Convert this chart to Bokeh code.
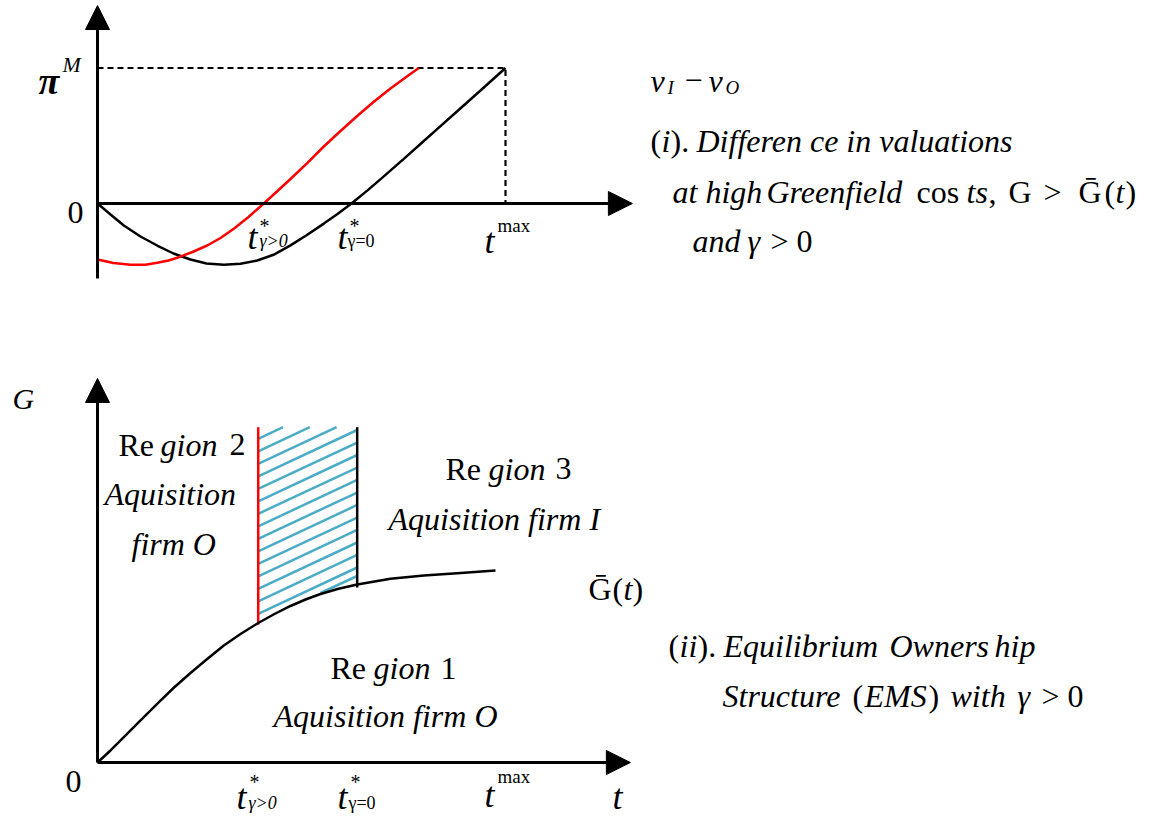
from bokeh.plotting import figure
from bokeh.models import Range1d, Arrow, NormalHead, Label
from bokeh.embed import file_html
from bokeh.resources import INLINE

# ---------------- data (schematic units: t_max = 100, pi^M = 100) ----------------
T_MAX = 100.0
PI_M = 100.0

# panel (i): v_I - v_O as function of t
top_black_t = [0, 3.19, 6.45, 10.54, 14.63, 18.63, 22.79, 26.72, 30.96, 35.05, 39.14, 43.14,
               47.30, 51.23, 55.47, 58.82, 62.25, 66.18, 70.17, 75.0, 79.98, 84.07, 88.16, 93.87, 100]
top_black_v = [0, -8.12, -16.24, -24.35, -31.0, -36.9, -41.33, -44.28, -45.24, -44.50, -42.07, -37.86,
               -30.92, -23.39, -14.83, -7.75, 0, 9.67, 20.0, 32.77, 46.13, 57.12, 68.12, 83.39, 100]

top_red_t = [0, 3.92, 8.09, 11.76, 14.63, 17.40, 19.93, 23.28, 26.89, 30.15, 33.41, 37.01,
             40.76, 44.12, 47.30, 51.40, 55.47, 59.56, 63.65, 67.65, 71.81, 75.49, 78.75]
top_red_v = [-41.33, -43.91, -45.24, -45.24, -43.76, -42.07, -39.63, -35.79, -31.0, -25.46, -18.67, -9.96,
             0, 9.23, 18.08, 29.82, 42.07, 53.51, 64.58, 74.91, 84.87, 92.99, 100]

dash_t = [0, T_MAX, T_MAX]
dash_v = [PI_M, PI_M, 0]

# panel (ii): G-bar(t) boundary
gbar_t = [0, 3.19, 6.45, 10.54, 14.63, 18.63, 22.79, 26.89, 30.96, 35.05, 39.39, 43.14,
          47.30, 50.98, 54.66, 59.07, 63.65, 71.81, 79.98, 88.16, 97.55]
gbar_g = [0, 3.13, 6.59, 10.94, 15.29, 19.4, 23.31, 26.95, 30.47, 33.46, 36.33, 38.54,
          40.76, 42.45, 43.88, 45.26, 46.35, 47.84, 48.70, 49.3, 50.0]

t_star_gpos = 39.39    # t*_{gamma>0}
t_star_gzero = 63.65   # t*_{gamma=0}
g_region_top = 87.32
g_red_bottom = 35.9
g_black_bottom = 45.57

# hatched band between t*_{gamma>0} and t*_{gamma=0}
hatch_t0 = [39.39, 39.39, 39.39, 39.39, 39.39, 39.39, 39.39, 39.39, 39.39, 39.39, 39.39, 39.39, 39.39, 39.39, 39.39, 54.66]
hatch_g0 = [84.30, 81.04, 77.79, 74.53, 71.28, 68.02, 64.77, 61.51, 58.26, 55.0, 51.74, 48.49, 45.23, 41.98, 38.72, 44.14]
hatch_t1 = [45.47, 52.03, 58.60, 63.65, 63.65, 63.65, 63.65, 63.65, 63.65, 63.65, 63.65, 63.65, 63.65, 63.65, 63.65, 63.65]
hatch_g1 = [87.32, 87.32, 87.32, 86.59, 83.33, 80.08, 76.82, 73.57, 70.31, 67.06, 63.80, 60.55, 57.29, 54.04, 50.78, 48.57]

# ---------------- figure ----------------
FONT = "Liberation Serif"
RED = "#ff0000"
HATCH = "#4bacc6"

p = figure(width=1159, height=820, x_range=Range1d(-23.775, 260.294), y_range=Range1d(-15.104, 198.4375),
           x_axis_type=None, y_axis_type=None, toolbar_location=None, output_backend="svg",
           min_border=0, title=None)
p.extra_y_ranges = {"top": Range1d(-455.351, 149.815)}
p.outline_line_color = None
p.background_fill_color = "white"
p.border_fill_color = "white"

# ---- panel (i) ----
p.line(dash_t, dash_v, y_range_name="top", line_color="black", line_width=2.2, line_dash="6 4")
p.line(top_black_t, top_black_v, y_range_name="top", line_color="black", line_width=2.5)
p.line(top_red_t, top_red_v, y_range_name="top", line_color=RED, line_width=2.5)
p.add_layout(Arrow(end=NormalHead(size=24, fill_color="black", line_color="black"),
                   x_start=0, y_start=-55.35, x_end=0, y_end=146.1, line_width=3,
                   y_range_name="top"))
p.add_layout(Arrow(end=NormalHead(size=24, fill_color="black", line_color="black"),
                   x_start=0, y_start=0, x_end=131.1, y_end=0, line_width=3,
                   y_range_name="top"))

# ---- panel (ii) ----
p.segment(hatch_t0, hatch_g0, hatch_t1, hatch_g1, line_color=HATCH, line_width=2.5)
p.segment([t_star_gpos], [g_red_bottom], [t_star_gpos], [g_region_top], line_color=RED, line_width=2.5)
p.segment([t_star_gzero], [g_black_bottom], [t_star_gzero], [g_region_top], line_color="black", line_width=2.5)
p.line(gbar_t, gbar_g, line_color="black", line_width=2.5)
p.add_layout(Arrow(end=NormalHead(size=24, fill_color="black", line_color="black"),
                   x_start=0, y_start=0, x_end=0, y_end=100.0, line_width=3))
p.add_layout(Arrow(end=NormalHead(size=24, fill_color="black", line_color="black"),
                   x_start=0, y_start=0, x_end=130.6, y_end=0, line_width=3))


def lab(x, y, text, size, style="normal", rng="default", align="left"):
    kw = dict(x=x, y=y, text=text, text_font=FONT, text_font_size=f"{size}px",
              text_font_style=style, text_align=align, text_baseline="alphabetic",
              text_color="black")
    if rng != "default":
        kw["y_range_name"] = rng
    p.add_layout(Label(**kw))


# panel (i) labels
lab(-14.46, 90.77, "π", 38, "bold italic", "top")
lab(-8.58, 102.58, "M", 22, "italic", "top")
lab(-3.43, -6.64, "0", 32, "normal", "top", "right")
lab(36.76, -25.09, "t", 36, "italic", "top")
lab(39.71, -16.97, "*", 20, "normal", "top")
lab(39.71, -28.04, "γ>0", 18, "italic", "top")
lab(58.82, -25.09, "t", 36, "italic", "top")
lab(61.76, -16.97, "*", 20, "normal", "top")
lab(61.27, -28.04, "γ=0", 18, "normal", "top")
lab(94.85, -27.31, "t", 36, "italic", "top")
lab(98.04, -16.24, "max", 19, "normal", "top")

# panel (i) caption
lab(135.54, 90.77, "v", 32, "italic", "top")
lab(139.71, 85.61, "I", 19, "italic", "top")
lab(143.87, 90.77, "−", 32, "normal", "top")
lab(149.75, 90.77, "v", 32, "italic", "top")
lab(153.92, 85.61, "O", 19, "italic", "top")

lab(135.54, 45.76, "(", 32, "normal", "top")
lab(138.24, 45.76, "i", 32, "italic", "top")
lab(140.44, 45.76, ").", 32, "normal", "top")
lab(146.81, 45.76, "Differen ce in valuations", 32, "italic", "top")

lab(140.93, 8.12, "at high", 32, "italic", "top")
lab(163.97, 8.12, "Greenfield", 32, "italic", "top")
lab(200.74, 8.12, "cos", 32, "normal", "top")
lab(213.0, 8.12, "ts", 32, "italic", "top")
lab(218.4, 8.12, ",", 32, "normal", "top")
lab(223.28, 8.12, "G", 32, "normal", "top")
lab(231.86, 8.12, ">", 32, "normal", "top")
lab(240.44, 8.12, "Ḡ", 32, "normal", "top")
lab(246.81, 8.12, "(", 32, "normal", "top")
lab(249.51, 8.12, "t", 32, "italic", "top")
lab(251.96, 8.12, ")", 32, "normal", "top")

lab(145.83, -27.31, "and", 32, "italic", "top")
lab(159.31, -27.31, "γ", 32, "italic", "top")
lab(164.95, -27.31, "> 0", 32, "normal", "top")

# panel (ii) labels
lab(-20.83, 94.79, "G", 30, "italic")
lab(-3.92, -4.95, "0", 32, "normal", align="right")
lab(34.07, -9.11, "t", 36, "italic")
lab(37.25, -4.95, "*", 20, "normal")
lab(37.01, -10.42, "γ>0", 18, "italic")
lab(58.82, -9.11, "t", 36, "italic")
lab(62.01, -4.95, "*", 20, "normal")
lab(61.52, -10.42, "γ=0", 18, "normal")
lab(94.85, -8.59, "t", 36, "italic")
lab(98.04, -3.65, "max", 19, "normal")
lab(126.23, -9.11, "t", 36, "italic")

lab(5.15, 82.81, "Re", 32, "normal")
lab(15.44, 82.81, "gion", 32, "italic")
lab(32.35, 82.81, "2", 32, "normal")
lab(1.72, 70.05, "Aquisition", 32, "italic")
lab(8.33, 57.03, "firm O", 32, "italic")

lab(85.29, 76.56, "Re", 32, "normal")
lab(95.83, 76.56, "gion", 32, "italic")
lab(112.25, 76.56, "3", 32, "normal")
lab(71.32, 63.54, "Aquisition  firm I", 32, "italic")

lab(57.11, 24.48, "Re", 32, "normal")
lab(67.65, 24.48, "gion", 32, "italic")
lab(84.07, 24.48, "1", 32, "normal")
lab(43.14, 11.98, "Aquisition  firm O", 32, "italic")

lab(120.34, 45.31, "Ḡ", 32, "normal")
lab(126.23, 45.31, "(", 32, "normal")
lab(128.92, 45.31, "t", 32, "italic")
lab(131.13, 45.31, ")", 32, "normal")

lab(139.95, 30.21, "(", 32, "normal")
lab(142.65, 30.21, "ii", 32, "italic")
lab(147.06, 30.21, ").", 32, "normal")
lab(153.43, 30.21, "Equilibrium", 32, "italic")
lab(194.12, 30.21, "Owners", 32, "italic")
lab(219.85, 30.21, "hip", 32, "italic")

lab(153.19, 17.19, "Structure", 32, "italic")
lab(185.05, 17.19, "(", 32, "normal")
lab(188.0, 17.19, "EMS", 32, "italic")
lab(203.68, 17.19, ")", 32, "normal")
lab(209.07, 17.19, "with", 32, "italic")
lab(225.49, 17.19, "γ", 32, "italic")
lab(231.37, 17.19, "> 0", 32, "normal")

open("out.html", "w").write(file_html(p, INLINE))
